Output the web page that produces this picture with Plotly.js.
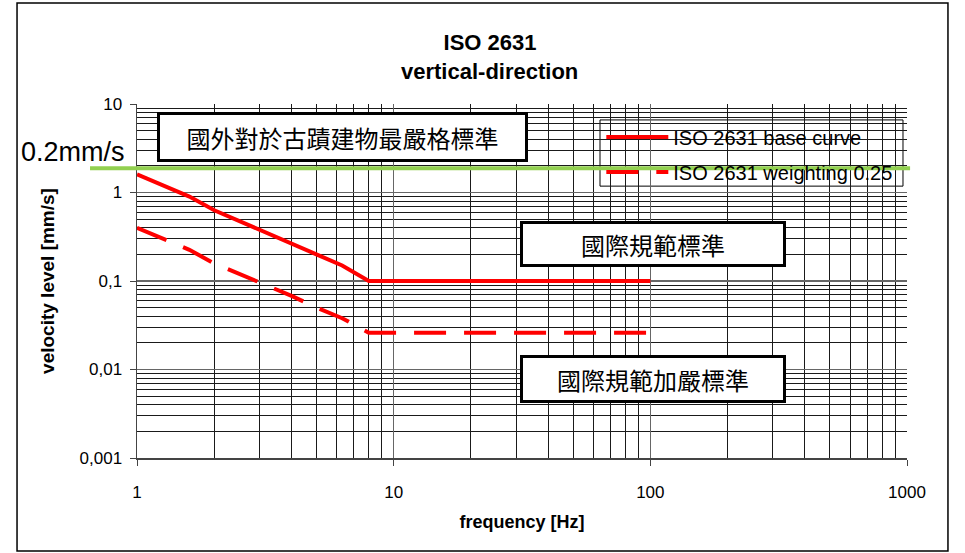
<!DOCTYPE html>
<html>
<head>
<meta charset="utf-8">
<script src="https://cdn.plot.ly/plotly-3.0.1.min.js"></script>
<style>html,body{margin:0;padding:0;background:#fff;}#chart{width:965px;height:553px;}</style>
</head>
<body>
<div id="chart"></div>
<script>
// frequency [Hz]
const baseFreq = [1, 1.6, 2, 3.15, 4, 5, 6.3, 8, 100];
// ISO 2631 base curve velocity [mm/s]
const baseVel = [1.6, 0.9, 0.63, 0.36, 0.27, 0.2, 0.15, 0.1, 0.1];
// ISO 2631 weighting 0.25 [mm/s]
const weightFreq = [1, 1.6, 2, 3.15, 4, 5, 6.3, 8, 100];
const weightVel = [0.4, 0.225, 0.158, 0.09, 0.068, 0.05, 0.038, 0.026, 0.026];
// green reference line level
const greenLevel = 1.88;
const greenLabel = '0.2mm/s';
const yTickVals = [0.001, 0.01, 0.1, 1, 10];
const yTickText = ['0,001', '0,01', '0,1', '1', '10'];
const xTickVals = [1, 10, 100, 1000];
const xTickText = ['1', '10', '100', '1000'];
const boxLabels = ['國外對於古蹟建物最嚴格標準', '國際規範標準', '國際規範加嚴標準'];

const FONT = 'Arial, "Liberation Sans", sans-serif';
const CJK = '"Noto Sans CJK TC", "Noto Sans CJK SC", sans-serif';

const traces = [
  {x: baseFreq, y: baseVel, type: 'scatter', mode: 'lines', name: 'ISO 2631 base curve',
   legendgroup: 'a', line: {color: '#ff0000', width: 4}},
  {x: weightFreq, y: weightVel, type: 'scatter', mode: 'lines', name: 'ISO 2631 weighting 0.25',
   legendgroup: 'b', line: {color: '#ff0000', width: 4, dash: '32px,18px'}}
];

const gridMinor = {showgrid: true, gridcolor: '#1a1a1a', gridwidth: 1, dtick: 'D1'};

const layout = {
  width: 965, height: 553,
  margin: {l: 137, r: 58, t: 104, b: 95},
  paper_bgcolor: '#fff', plot_bgcolor: '#fff',
  font: {family: FONT, color: '#000', size: 16},
  title: {text: '<b>ISO 2631</b>', x: 0.5078, xanchor: 'center', y: 0.924, yanchor: 'middle',
          font: {family: FONT, size: 22, color: '#000'}},
  showlegend: true,
  legend: {x: 0.603, y: 0.962, xanchor: 'left', yanchor: 'top', bgcolor: 'rgba(0,0,0,0)',
           borderwidth: 0, font: {family: FONT, size: 20, color: '#000'},
           itemwidth: 62, tracegroupgap: 6},
  xaxis: {type: 'log', range: [0, 3], tickmode: 'array', tickvals: xTickVals, ticktext: xTickText,
          showgrid: true, gridcolor: '#666', gridwidth: 1.5, minor: gridMinor,
          showline: true, linecolor: '#444', linewidth: 1.5, ticks: 'outside', ticklen: 6, tickcolor: '#444',
          ticklabelstandoff: 12, tickfont: {family: FONT, size: 17},
          title: {text: '<b>frequency [Hz]</b>', font: {family: FONT, size: 18}, standoff: 14},
          zeroline: false, mirror: false},
  yaxis: {type: 'log', range: [-3, 1], tickmode: 'array', tickvals: yTickVals, ticktext: yTickText,
          showgrid: true, gridcolor: '#666', gridwidth: 1.5, minor: gridMinor,
          showline: true, linecolor: '#444', linewidth: 1.5, ticks: 'outside', ticklen: 6, tickcolor: '#444',
          ticklabelstandoff: 4, tickfont: {family: FONT, size: 17},
          title: {text: '<b>velocity level [mm/s]</b>', font: {family: FONT, size: 19}, standoff: 20},
          zeroline: false},
  shapes: [
    // outer chart border
    {type: 'rect', xref: 'paper', yref: 'paper', x0: -0.1558, x1: 1.0532, y0: -0.2627, y1: 1.2853,
     line: {color: '#000', width: 1.5}, fillcolor: 'rgba(0,0,0,0)', layer: 'below'},
    // legend box
    {type: 'rect', xref: 'paper', yref: 'paper', x0: 0.6013, x1: 0.9948, y0: 0.768, y1: 0.955,
     line: {color: '#000', width: 1}, fillcolor: '#fff', layer: 'between'},
    // green reference line
    {type: 'line', xref: 'paper', yref: 'y', x0: -0.061, x1: 1.004, y0: greenLevel, y1: greenLevel,
     line: {color: '#92d050', width: 4}, layer: 'above'}
  ],
  annotations: [
    {text: '<b>vertical-direction</b>', xref: 'paper', yref: 'paper', x: 0.4584, y: 1.0904,
     xanchor: 'center', yanchor: 'middle', showarrow: false, font: {family: FONT, size: 22}},
    {text: greenLabel, xref: 'paper', yref: 'paper', x: -0.013, y: 0.8644, xanchor: 'right', yanchor: 'middle',
     showarrow: false, font: {family: FONT, size: 27}},
    {text: boxLabels[0], xref: 'paper', yref: 'paper', x: 0.2669, y: 0.9068, xanchor: 'center', yanchor: 'middle',
     showarrow: false, width: 365, height: 44, bgcolor: '#fff', bordercolor: '#000', borderwidth: 3, borderpad: 0,
     font: {family: CJK, size: 24}},
    {text: boxLabels[1], xref: 'paper', yref: 'paper', x: 0.6701, y: 0.6045, xanchor: 'center', yanchor: 'middle',
     showarrow: false, width: 260, height: 40, bgcolor: '#fff', bordercolor: '#000', borderwidth: 3, borderpad: 0,
     font: {family: CJK, size: 24}},
    {text: boxLabels[2], xref: 'paper', yref: 'paper', x: 0.6701, y: 0.2232, xanchor: 'center', yanchor: 'middle',
     showarrow: false, width: 260, height: 42, bgcolor: '#fff', bordercolor: '#000', borderwidth: 3, borderpad: 0,
     font: {family: CJK, size: 24}}
  ]
};

Plotly.newPlot('chart', traces, layout, {displayModeBar: false, staticPlot: true});
</script>
</body>
</html>
